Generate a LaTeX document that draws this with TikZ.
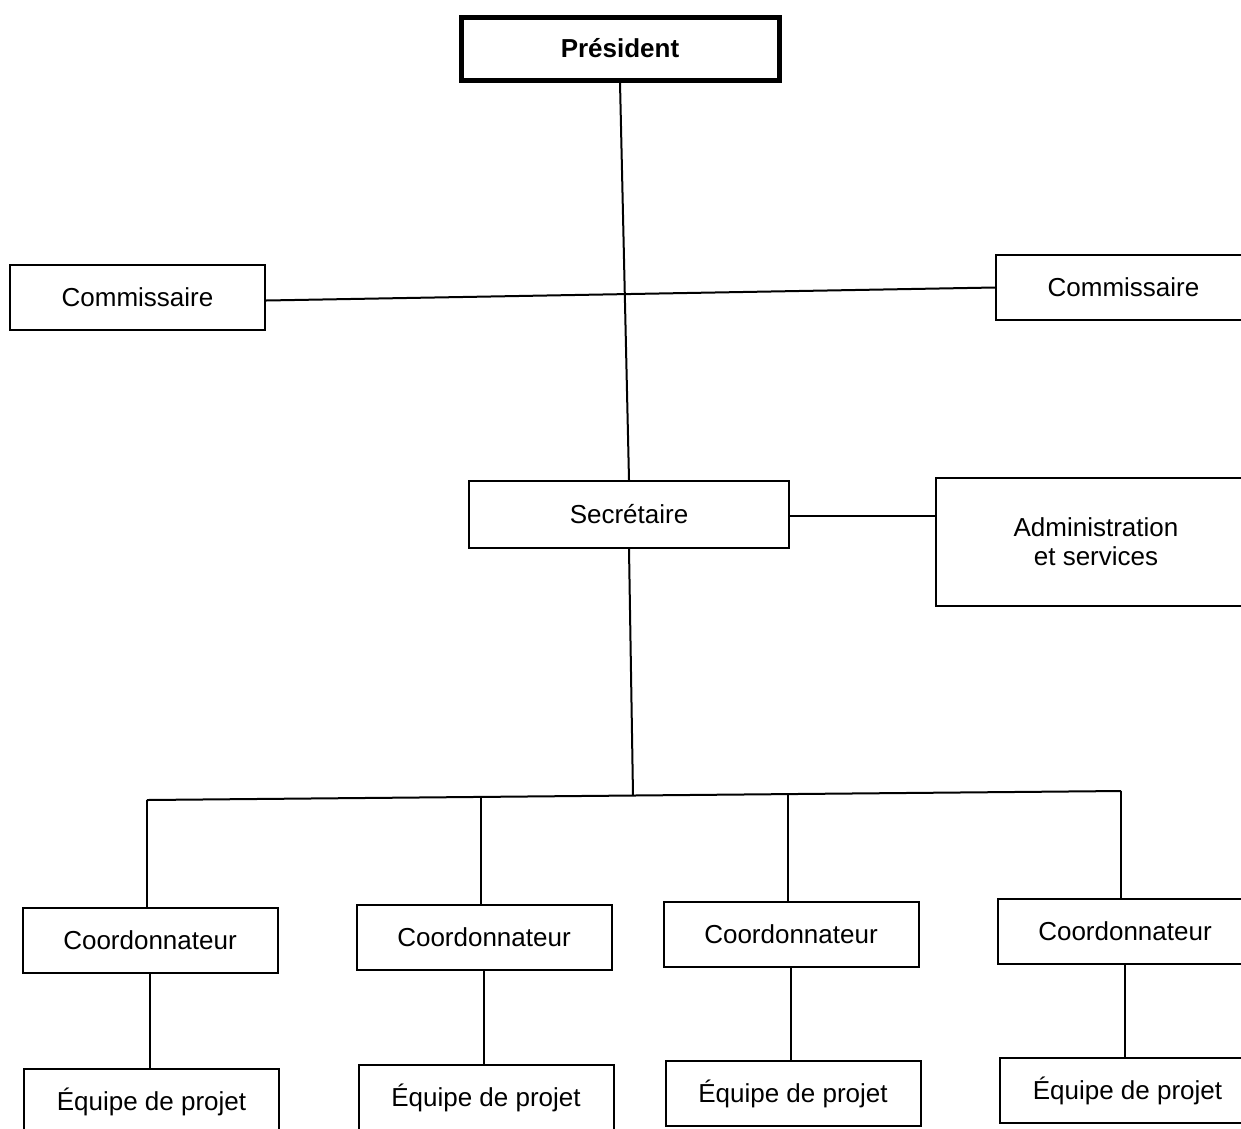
\documentclass[tikz,border=0pt]{standalone}
\usepackage{fontspec}
\setmainfont{Liberation Sans}
\begin{document}
\begin{tikzpicture}[x=1pt,y=-1pt,
  box/.style={draw, line width=2pt, minimum width=255pt, minimum height=65pt, inner sep=0pt, align=center, font=\fontsize{26}{29}\selectfont},
  topbox/.style={box, line width=5pt, minimum width=318pt, minimum height=63pt, font=\fontsize{26}{29}\selectfont\bfseries},
  link/.style={line width=2pt}]
\useasboundingbox (0,0) rectangle (1241,1128);
\clip (0,0) rectangle (1241,1128);
\fill[white] (0,0) rectangle (1241,1128);

\node[topbox] (pres) at (620,48.5) {Président};
\node[box] (comL) at (137.5,297.5) {Commissaire};
\node[box] (comR) at (1123.5,287.5) {Commissaire};
\node[box, minimum width=320pt, minimum height=67pt] (sec) at (629,514.5) {Secrétaire};
\node[box, minimum width=320pt, minimum height=128pt] (adm) at (1096,542) {Administration\\et services};

\node[box] (c1) at (150,940.5) {Coordonnateur};
\node[box] (c2) at (484,937.5) {Coordonnateur};
\node[box] (c3) at (791,934.5) {Coordonnateur};
\node[box] (c4) at (1125,931) {Coordonnateur};

\node[box] (e1) at (151.5,1101.5) {Équipe de projet};
\node[box] (e2) at (486,1097.5) {Équipe de projet};
\node[box] (e3) at (793,1093.5) {Équipe de projet};
\node[box] (e4) at (1127.5,1090.5) {Équipe de projet};

\coordinate (j) at (633,795.5);
\coordinate (b1) at (147,800);
\coordinate (b2) at (481,798);
\coordinate (b3) at (788,795);
\coordinate (b4) at (1121,791);

\draw[link] (pres.south) -- (sec.north);
\draw[link] ([yshift=-3pt]comL.east) -- (comR.west);
\draw[link] ([yshift=-1.5pt]sec.east) -- ([yshift=-1.5pt]sec.east -| adm.west);
\draw[link] (sec.south) -- (j);
\draw[link] (b1) -- (b4);
\draw[link] (b1) -- (b1 |- c1.north);
\draw[link] (b2) -- (b2 |- c2.north);
\draw[link] (b3) -- (b3 |- c3.north);
\draw[link] (b4) -- (b4 |- c4.north);
\draw[link] (c1.south) -- (c1.south |- e1.north);
\draw[link] (c2.south) -- (c2.south |- e2.north);
\draw[link] (c3.south) -- (c3.south |- e3.north);
\draw[link] (c4.south) -- (c4.south |- e4.north);
\end{tikzpicture}
\end{document}
